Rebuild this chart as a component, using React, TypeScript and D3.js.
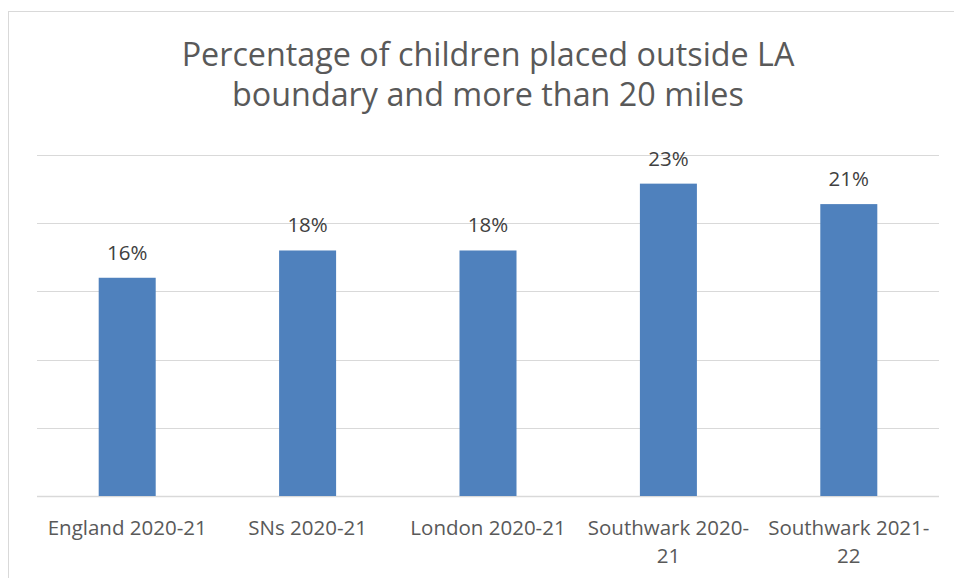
import React from "react";
import * as d3 from "d3";

const categories = [
  ["England 2020-21"],
  ["SNs 2020-21"],
  ["London 2020-21"],
  ["Southwark 2020-", "21"],
  ["Southwark 2021-", "22"],
];
const values = [16, 18, 18, 22.9, 21.4];
const valueLabels = ["16%", "18%", "18%", "23%", "21%"];
const yTicks = [0, 5, 10, 15, 20, 25];
const titleLines = ["Percentage of children placed outside LA", "boundary and more than 20 miles"];

const W = 954;
const H = 578;
const FONT = "'Open Sans', 'Liberation Sans', sans-serif";

export default function App() {
  const x = d3
    .scaleBand<number>()
    .domain(d3.range(categories.length))
    .range([37, 939])
    .paddingInner(0.684)
    .paddingOuter(0.342);
  const y = d3.scaleLinear().domain([0, 25]).range([496, 155]);

  return (
    <svg
      width={W}
      height={H}
      style={{ position: "absolute", left: 0, top: 0, background: "#fff" }}
      fontFamily={FONT}
    >
      <rect x={0} y={0} width={W} height={H} fill="#fff" />
      <rect x={8.5} y={11.5} width={W + 20} height={H + 20} fill="none" stroke="#d9d9d9" strokeWidth={1} />
      {titleLines.map((t, i) => (
        <text key={i} x={488} y={66 + i * 40} textAnchor="middle" fontSize={32.3} fill="#595959">
          {t}
        </text>
      ))}
      {yTicks.map((t) => (
        <line key={t} x1={37} x2={939} y1={Math.round(y(t)) + 0.5} y2={Math.round(y(t)) + 0.5} stroke="#d9d9d9" strokeWidth={t === 0 ? 1.5 : 1} />
      ))}
      {values.map((v, i) => (
        <rect key={i} x={x(i)!} y={y(v)} width={x.bandwidth()} height={y(0) - y(v)} fill="#4f81bd" />
      ))}
      {values.map((v, i) => (
        <text key={i} x={x(i)! + x.bandwidth() / 2} y={y(v) - 18} textAnchor="middle" fontSize={20.5} fill="#404040">
          {valueLabels[i]}
        </text>
      ))}
      {categories.map((lines, i) =>
        lines.map((l, j) => (
          <text key={i + "-" + j} x={x(i)! + x.bandwidth() / 2} y={535 + j * 28} textAnchor="middle" fontSize={20.5} fill="#595959">
            {l}
          </text>
        ))
      )}
    </svg>
  );
}
